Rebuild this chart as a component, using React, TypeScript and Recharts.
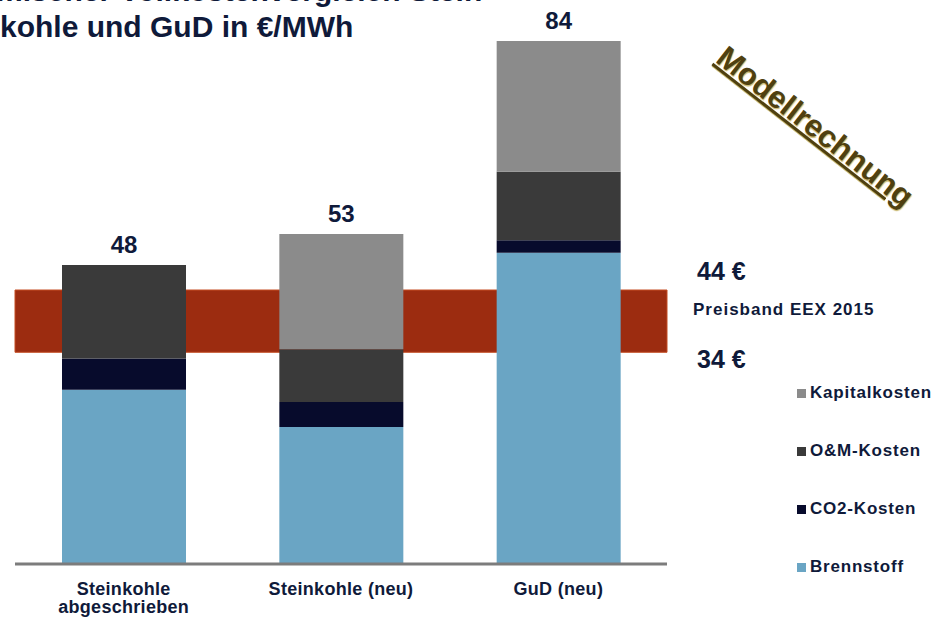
import React from 'react';
import { BarChart, Bar, XAxis, YAxis, ReferenceArea, LabelList } from 'recharts';

const categories = ['Steinkohle\nabgeschrieben', 'Steinkohle (neu)', 'GuD (neu)'];
const brennstoff = [28, 22, 50];
const co2Kosten = [5, 4, 2];
const omKosten = [15, 8.5, 11];
const kapitalkosten = [0, 18.5, 21];
const totals = [48, 53, 84];
const preisband = [34, 44];

const series = [
  { key: 'brennstoff', name: 'Brennstoff', color: '#6aa5c4' },
  { key: 'co2', name: 'CO2-Kosten', color: '#070b2c' },
  { key: 'om', name: 'O&M-Kosten', color: '#3a3a3a' },
  { key: 'kapital', name: 'Kapitalkosten', color: '#8b8b8b' },
];

const data = categories.map((c, i) => ({
  name: c,
  brennstoff: brennstoff[i],
  co2: co2Kosten[i],
  om: omKosten[i],
  kapital: kapitalkosten[i],
  total: totals[i],
}));

const NAVY = '#0f1a3a';
const FONT = '"Liberation Sans", Arial, sans-serif';

function CategoryTick(props: any) {
  const { x, y, payload } = props;
  const lines = String(payload.value).split('\n');
  return (
    <text x={x} y={y} textAnchor="middle" fill={NAVY} fontSize={18} fontWeight={700} fontFamily={FONT} letterSpacing={0.3}>
      {lines.map((l, i) => (
        <tspan key={i} x={x} dy={i === 0 ? 23 : 18}>
          {l}
        </tspan>
      ))}
    </text>
  );
}

// label sits on the Brennstoff segment; its px-per-unit gives the top of the stack
function TotalLabel(props: any) {
  const { x, y, width, height, value, index } = props;
  const perUnit = height / brennstoff[index];
  const top = y + height - value * perUnit;
  return (
    <text x={x + width / 2} y={top - 12} textAnchor="middle" fill={NAVY} fontSize={24} fontWeight={700} fontFamily={FONT}>
      {value}
    </text>
  );
}

const abs = (style: React.CSSProperties): React.CSSProperties => ({ position: 'absolute', whiteSpace: 'nowrap', ...style });

export default function App() {
  const legendItems = [...series].reverse();
  return (
    <div style={{ position: 'absolute', left: 0, top: 0, width: 946, height: 621, overflow: 'hidden', background: '#fff', fontFamily: FONT }}>
      <div style={abs({ left: -4, top: -26, fontSize: 30, fontWeight: 700, color: NAVY })}>mischer Vollkostenvergleich Stein-</div>
      <div style={abs({ left: 0, top: 10, fontSize: 30, fontWeight: 700, color: NAVY })}>kohle und GuD in €/MWh</div>

      <BarChart width={946} height={621} data={data} margin={{ top: 16, right: 279, bottom: 17, left: 15 }} barSize={124}>
        <ReferenceArea y1={preisband[0]} y2={preisband[1]} fill="#9c2c10" fillOpacity={1} stroke="#c44c22" strokeWidth={1} ifOverflow="visible" />
        <XAxis dataKey="name" height={40} tickLine={false} axisLine={{ stroke: '#7c7c7c', strokeWidth: 3 }} tick={<CategoryTick />} interval={0} />
        <YAxis hide domain={[0, 88]} />
        {series.map((s, i) => (
          <Bar key={s.key} dataKey={s.key} name={s.name} stackId="a" fill={s.color} isAnimationActive={false}>
            {i === 0 && <LabelList dataKey="total" content={<TotalLabel />} />}
          </Bar>
        ))}
      </BarChart>

      <div
        style={abs({
          left: 815,
          top: 127,
          transform: 'translate(-50%, -50%) rotate(38deg)',
          fontSize: 31,
          fontWeight: 700,
          color: '#4f4010',
          textDecoration: 'underline',
          textShadow: '1px 1px 1px #c8b870',
        })}
      >
        Modellrechnung
      </div>

      <div style={abs({ left: 697, top: 257, fontSize: 25, fontWeight: 700, color: NAVY })}>{preisband[1]} €</div>
      <div style={abs({ left: 693, top: 300, fontSize: 17, fontWeight: 700, color: NAVY, letterSpacing: 1 })}>Preisband EEX 2015</div>
      <div style={abs({ left: 697, top: 345, fontSize: 25, fontWeight: 700, color: NAVY })}>{preisband[0]} €</div>

      {legendItems.map((s, i) => (
        <div key={s.key} style={abs({ left: 797, top: 383 + i * 58, display: 'flex', alignItems: 'center', fontSize: 17, fontWeight: 700, color: NAVY, letterSpacing: 0.8 })}>
          <span style={{ display: 'inline-block', width: 9, height: 9, background: s.color, marginRight: 4 }} />
          {s.name}
        </div>
      ))}
    </div>
  );
}
